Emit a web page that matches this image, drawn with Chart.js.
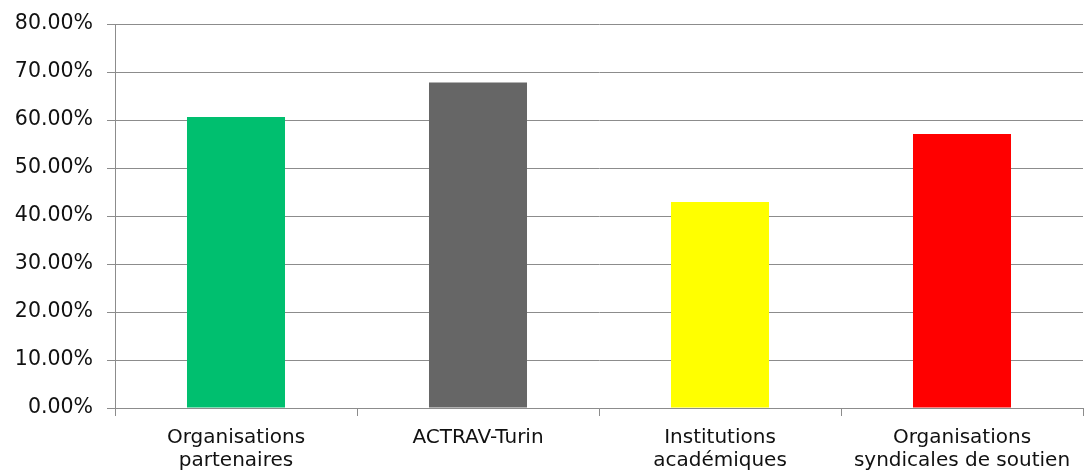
<!DOCTYPE html>
<html>
<head>
<meta charset="utf-8">
<script src="https://cdn.jsdelivr.net/npm/chart.js@4/dist/chart.umd.min.js"></script>
<style>
  html, body { margin: 0; padding: 0; background: #fff; }
  #wrap { width: 1084px; height: 472px; }
</style>
</head>
<body>
<div id="wrap"><canvas id="chart" width="1084" height="472"></canvas></div>
<script>
'use strict';

// Categories and values (percent)
const categories = [
    ['Organisations', 'partenaires'],
    'ACTRAV-Turin',
    ['Institutions', 'académiques'],
    ['Organisations', 'syndicales de soutien']
];
const shares = [60.6, 67.8, 42.9, 57.1];
const barColors = ['#00BF6F', '#666666', '#FFFF00', '#FF0000'];
const yTicks = [0, 10, 20, 30, 40, 50, 60, 70, 80];

const ctx = document.getElementById('chart').getContext('2d');
new Chart(ctx, {
    type: 'bar',
    data: {
        labels: categories,
        datasets: [{
            data: shares,
            backgroundColor: barColors,
            borderWidth: 0,
            categoryPercentage: 1,
            barPercentage: 0.405
        }]
    },
    options: {
        responsive: false,
        animation: false,
        layout: { padding: { top: 24, right: 1, left: 0, bottom: 0 } },
        plugins: {
            legend: { display: false },
            tooltip: { enabled: false }
        },
        scales: {
            y: {
                min: 0,
                max: 80,
                afterFit: s => { s.width = 115; s.paddingTop = 0; s.paddingBottom = 0; },
                afterBuildTicks: s => { s.ticks = yTicks.map(v => ({ value: v })); },
                ticks: {
                    color: '#111',
                    padding: 14,
                    font: { family: 'DejaVu Sans', size: 20.5 },
                    callback: v => v.toFixed(2) + '%'
                },
                grid: { color: '#8c8c8c', lineWidth: 1, tickLength: 8 },
                border: { color: '#8c8c8c' }
            },
            x: {
                afterFit: s => { s.height = 64; },
                ticks: {
                    color: '#111',
                    padding: 10,
                    maxRotation: 0,
                    autoSkip: false,
                    font: { family: 'DejaVu Sans', size: 20, lineHeight: 1.17 }
                },
                grid: { drawOnChartArea: false, color: '#8c8c8c', tickLength: 8, offset: true },
                border: { color: '#8c8c8c' }
            }
        }
    }
});
</script>
</body>
</html>
